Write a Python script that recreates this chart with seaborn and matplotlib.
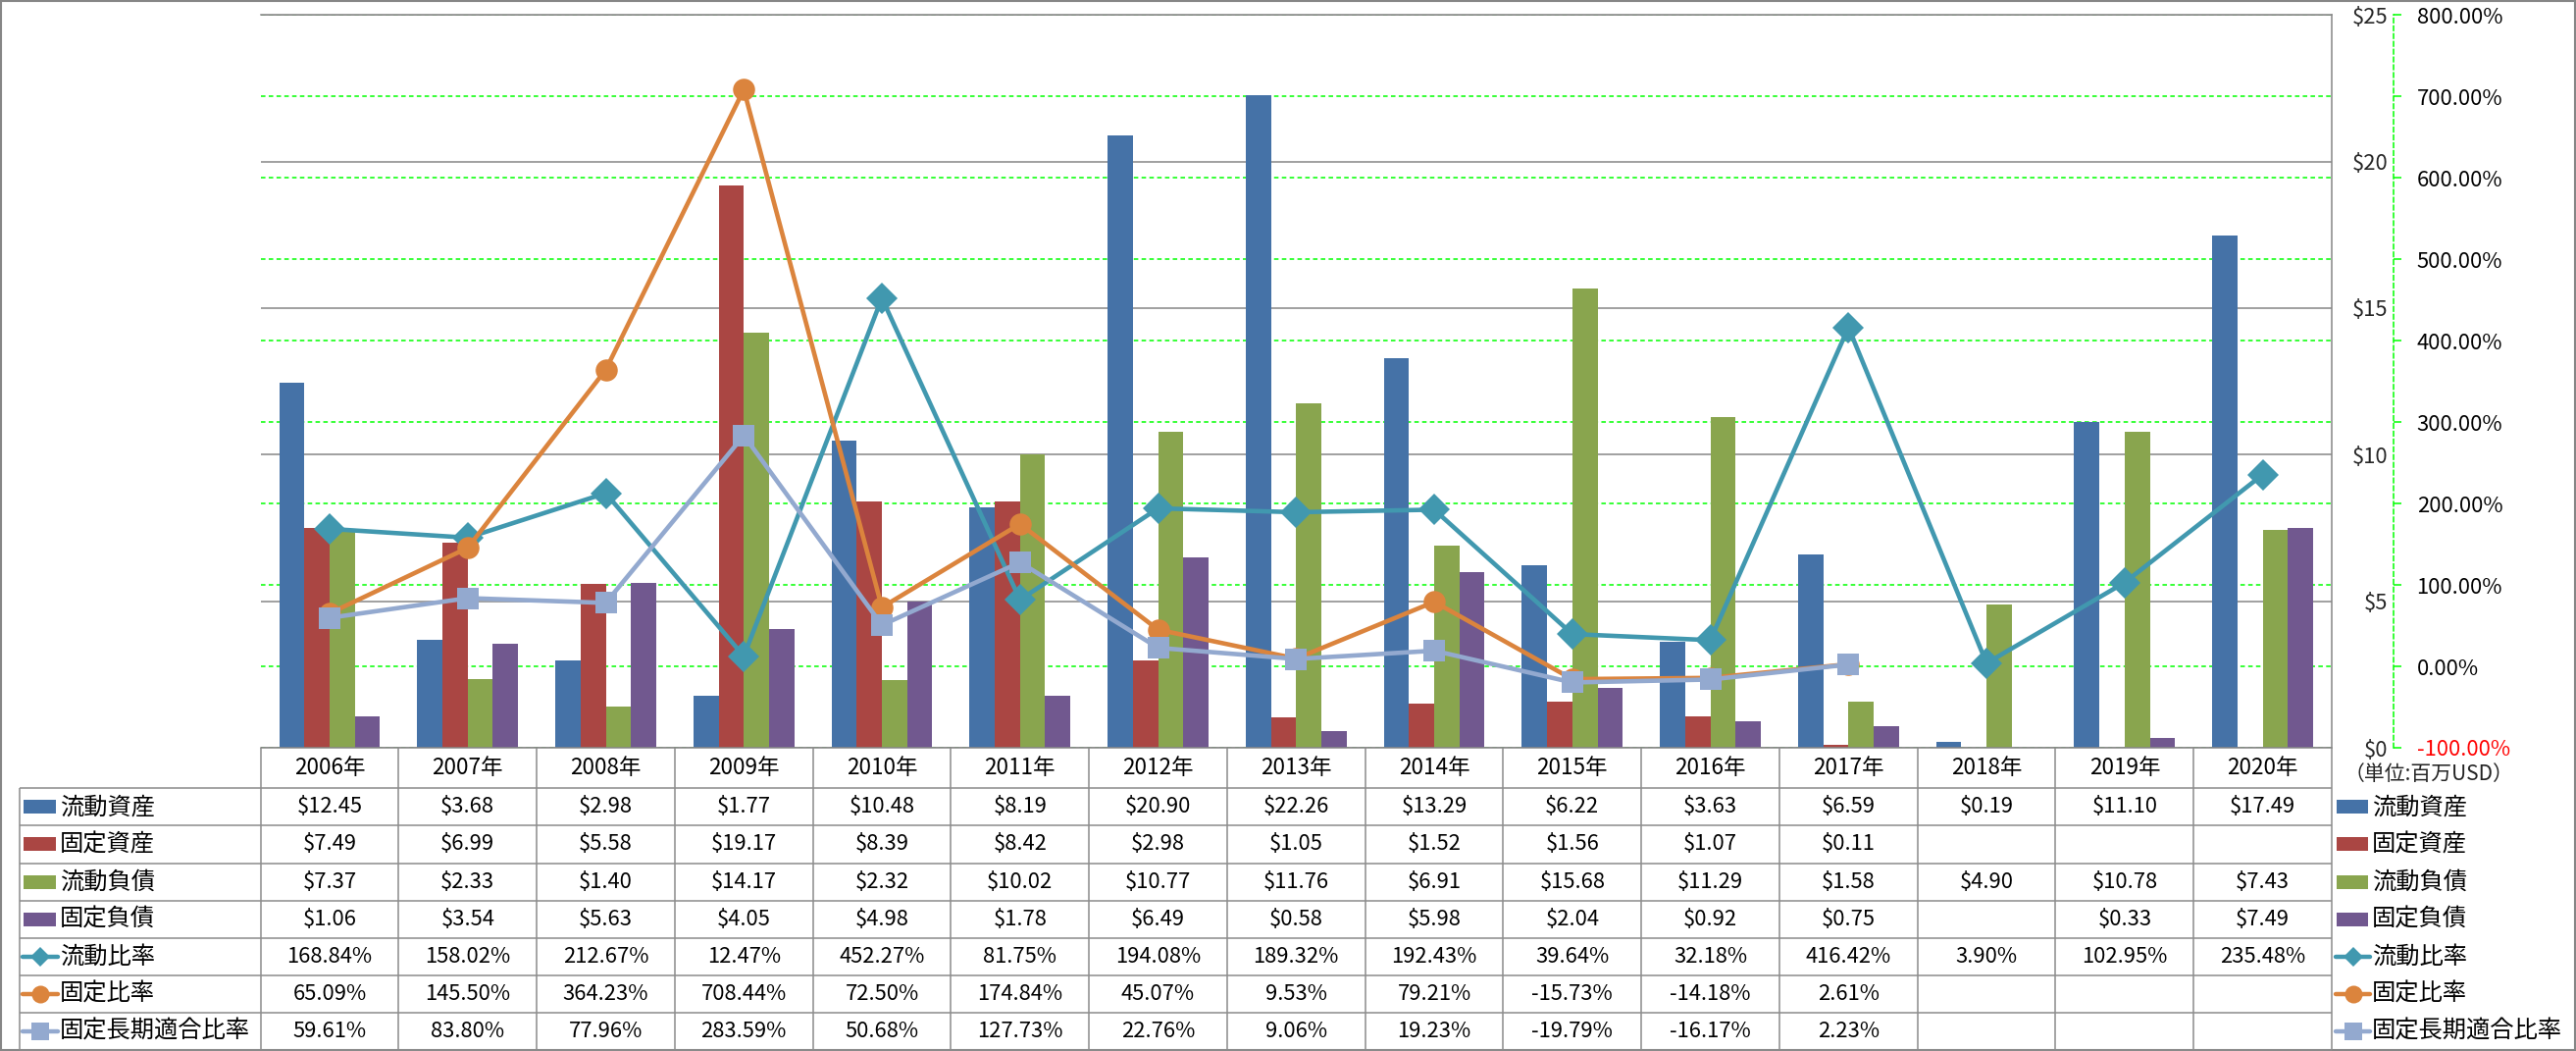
import numpy as np
import pandas as pd
import matplotlib
matplotlib.use("Agg")
import matplotlib.pyplot as plt
import seaborn as sns
from matplotlib.patches import Rectangle
from matplotlib.lines import Line2D

# ---------------- data ----------------
years = ["2006年", "2007年", "2008年", "2009年", "2010年", "2011年", "2012年", "2013年",
         "2014年", "2015年", "2016年", "2017年", "2018年", "2019年", "2020年"]
current_assets = [12.45, 3.68, 2.98, 1.77, 10.48, 8.19, 20.90, 22.26, 13.29, 6.22, 3.63, 6.59, 0.19, 11.10, 17.49]
fixed_assets = [7.49, 6.99, 5.58, 19.17, 8.39, 8.42, 2.98, 1.05, 1.52, 1.56, 1.07, 0.11, np.nan, np.nan, np.nan]
current_liab = [7.37, 2.33, 1.40, 14.17, 2.32, 10.02, 10.77, 11.76, 6.91, 15.68, 11.29, 1.58, 4.90, 10.78, 7.43]
fixed_liab = [1.06, 3.54, 5.63, 4.05, 4.98, 1.78, 6.49, 0.58, 5.98, 2.04, 0.92, 0.75, np.nan, 0.33, 7.49]
current_ratio = [168.84, 158.02, 212.67, 12.47, 452.27, 81.75, 194.08, 189.32, 192.43, 39.64, 32.18, 416.42, 3.90, 102.95, 235.48]
fixed_ratio = [65.09, 145.50, 364.23, 708.44, 72.50, 174.84, 45.07, 9.53, 79.21, -15.73, -14.18, 2.61, np.nan, np.nan, np.nan]
fixed_lt_ratio = [59.61, 83.80, 77.96, 283.59, 50.68, 127.73, 22.76, 9.06, 19.23, -19.79, -16.17, 2.23, np.nan, np.nan, np.nan]

bar_names = ["流動資産", "固定資産", "流動負債", "固定負債"]
line_names = ["流動比率", "固定比率", "固定長期適合比率"]
bar_series = [current_assets, fixed_assets, current_liab, fixed_liab]
line_series = [current_ratio, fixed_ratio, fixed_lt_ratio]
bar_colors = ["#4572A7", "#AA4643", "#89A54E", "#71588F"]
line_colors = ["#4198AF", "#DB843D", "#93A9CF"]
line_markers = ["D", "o", "s"]
dollar_ticks = [0, 5, 10, 15, 20, 25]
pct_ticks = [-100, 0, 100, 200, 300, 400, 500, 600, 700, 800]
unit_label = "（単位:百万USD）"

df_bar = pd.DataFrame([{"年": y, "項目": n, "金額": v}
                       for n, s in zip(bar_names, bar_series) for y, v in zip(years, s)])
df_line = pd.DataFrame([{"年": y, "指標": n, "比率": v}
                        for n, s in zip(line_names, line_series) for y, v in zip(years, s)])

# ---------------- style ----------------
sns.set_theme(style="white")
plt.rcParams["font.family"] = ["Noto Sans CJK JP", "DejaVu Sans"]

W, H, DPI = 2626, 1071, 100
fig = plt.figure(figsize=(W / DPI, H / DPI), dpi=DPI)
fig.patch.set_facecolor("white")

L, R, T, B = 265.6, 2377.0, 15.3, 762.0
pos = [L / W, 1 - B / H, (R - L) / W, (B - T) / H]
GRAY = "#868686"
GREEN = "#00FF00"
NUM_FS = 15.8
CJK_FS = 17.5

ax_bar = fig.add_axes(pos)
ax_pct = ax_bar.twinx()
ax_line = ax_bar.twinx()
ax_pct.set_zorder(0)
ax_bar.set_zorder(1)
ax_line.set_zorder(2)
ax_pct.patch.set_visible(True)
ax_pct.patch.set_facecolor("white")
ax_bar.patch.set_visible(False)
ax_line.patch.set_visible(False)

# --- percent axis (grid + right labels)
ax_pct.set_ylim(-100, 800)
ax_pct.set_yticks(pct_ticks, labels=[f"{v:.2f}%" for v in pct_ticks])
for s in ["left", "top", "bottom"]:
    ax_pct.spines[s].set_visible(False)
ax_pct.spines["right"].set_position(("axes", (2440 - L) / (R - L)))
ax_pct.spines["right"].set_color(GREEN)
ax_pct.spines["right"].set_linewidth(1.1)
ax_pct.spines["right"].set_linestyle((0, (3, 2.2)))
ax_pct.tick_params(axis="y", direction="out", length=6, width=1.1, color=GREEN,
                   pad=11, labelsize=NUM_FS, labelcolor="black")
ax_pct.grid(True, axis="y", color=GREEN, linestyle=(0, (3, 2.2)), linewidth=1.1)
ax_pct.grid(False, axis="x")
ax_pct.get_yticklabels()[0].set_color("red")

# --- bars
sns.barplot(data=df_bar, x="年", y="金額", hue="項目", order=years, hue_order=bar_names,
            palette=bar_colors, width=0.73, gap=0, errorbar=None, linewidth=0,
            saturation=1, legend=False, ax=ax_bar)
ax_bar.set_ylim(0, 25)
ax_bar.set_yticks(dollar_ticks, labels=[f"${v}" for v in dollar_ticks])
ax_bar.spines["left"].set_position(("axes", (2437 - L) / (R - L)))
ax_bar.spines["left"].set_visible(False)
ax_bar.tick_params(axis="y", length=0, pad=2, labelsize=NUM_FS)
ax_bar.tick_params(axis="x", length=0, labelbottom=False)
ax_bar.grid(True, axis="y", color=GRAY, linewidth=1.1)
ax_bar.grid(False, axis="x")
ax_bar.set_axisbelow(True)
for s in ["top", "right", "bottom"]:
    ax_bar.spines[s].set_color(GRAY)
    ax_bar.spines[s].set_linewidth(1.1)
ax_bar.set_xlabel("")
ax_bar.set_ylabel("")

# --- lines
sns.pointplot(data=df_line, x="年", y="比率", hue="指標", order=years, hue_order=line_names,
              palette=line_colors, markers=line_markers, linestyles="-", dodge=False,
              errorbar=None, legend=False, markersize=16.2, linewidth=3.3,
              markeredgewidth=0, ax=ax_line)
ax_line.set_ylim(-100, 800)
ax_line.set_yticks([])
ax_line.tick_params(axis="x", length=0, labelbottom=False)
for s in ax_line.spines.values():
    s.set_visible(False)
ax_line.set_xlabel("")
ax_line.set_ylabel("")
ax_pct.set_ylabel("")
ax_bar.set_xlim(-0.5, len(years) - 0.5)

# ---------------- data table + legend ----------------
tab = fig.add_axes([0, 0, 1, 1], zorder=3)
tab.set_xlim(0, W)
tab.set_ylim(H, 0)
tab.axis("off")
tab.patch.set_visible(False)

TGRAY = "#8C8C8C"
n = len(years)
cw = (R - L) / n
hdr_top, hdr_bot, tbl_bot = B, 803.3, 1070.0
row_h = (tbl_bot - hdr_bot) / 7
x_lab = 20.0

tab.hlines([hdr_bot + k * row_h for k in range(8)], x_lab, R, color=TGRAY, lw=1.1)
tab.vlines([x_lab], hdr_bot, tbl_bot, color=TGRAY, lw=1.1)
tab.vlines([L + i * cw for i in range(n + 1)], hdr_top, tbl_bot, color=TGRAY, lw=1.1)

for i, y in enumerate(years):
    tab.text(L + (i + 0.5) * cw, (hdr_top + hdr_bot) / 2, y, ha="center", va="center",
             fontsize=16.2, color="black")

all_names = bar_names + line_names
all_series = bar_series + line_series
for r, (name, series) in enumerate(zip(all_names, all_series)):
    yc = hdr_bot + (r + 0.5) * row_h
    for i, v in enumerate(series):
        if v is None or (isinstance(v, float) and np.isnan(v)):
            continue
        txt = f"${v:.2f}" if r < 4 else f"{v:.2f}%"
        tab.text(L + (i + 0.5) * cw, yc, txt, ha="center", va="center",
                 fontsize=NUM_FS, color="black")
    # keys: table label column and right legend
    for kx0, kx1, tx in [(24.0, 57.0, 61.0), (2382.0, 2414.0, 2418.0)]:
        if r < 4:
            tab.add_patch(Rectangle((kx0, yc - 7), kx1 - kx0, 14, color=bar_colors[r], lw=0))
        else:
            j = r - 4
            ms = {"D": 10.0, "o": 13.0, "s": 12.5}[line_markers[j]]
            tab.add_line(Line2D([kx0 - 1, kx1 + 2], [yc, yc], color=line_colors[j], lw=3.2))
            tab.add_line(Line2D([(kx0 + kx1) / 2 + 0.5], [yc], color=line_colors[j],
                                marker=line_markers[j], ms=ms, mew=0, lw=0))
        tab.text(tx, yc, name, ha="left", va="center", fontsize=CJK_FS, color="black")

tab.text(2390, 789, unit_label, ha="left", va="center", fontsize=15, color="#222222")

# figure border
tab.add_patch(Rectangle((0.8, 0.8), W - 1.6, H - 1.6, fill=False, ec=GRAY, lw=1.5))

fig.savefig("out.png", dpi=DPI, facecolor="white")
